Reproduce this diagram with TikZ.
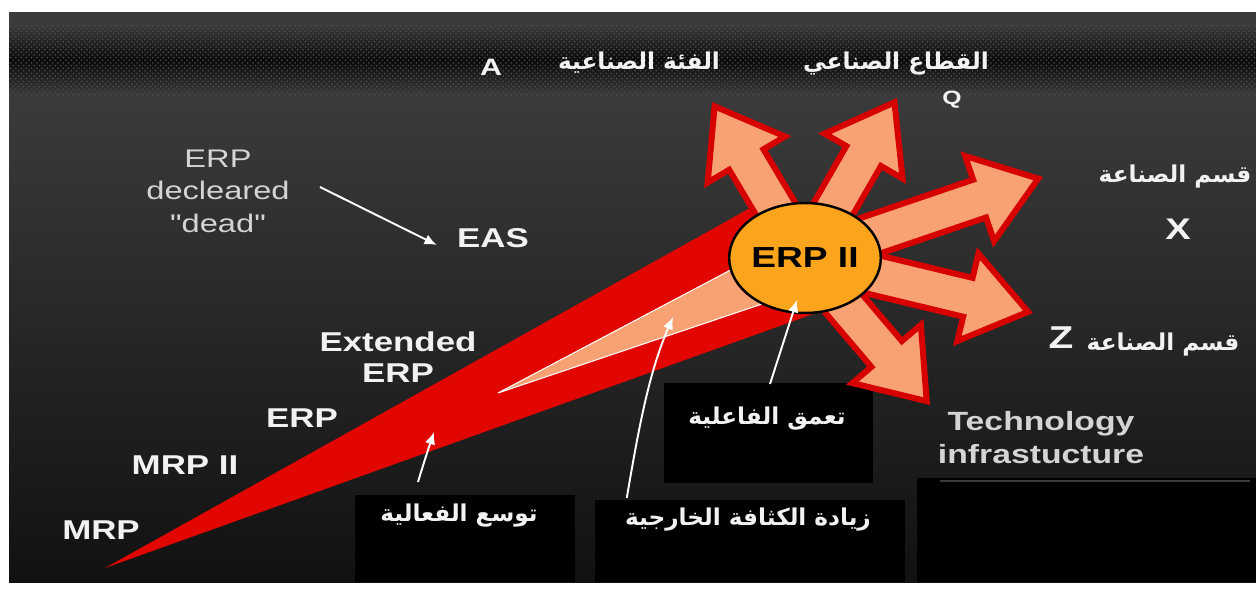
\documentclass[tikz,border=0pt]{standalone}
\usepackage{fontspec}
\setmainfont{Liberation Sans}[FakeStretch=1.28, Ligatures=TeXOff]
\newfontfamily\arabicfont[Script=Arabic,FakeStretch=1.0]{DejaVu Sans}
\TeXXeTstate=1
\usetikzlibrary{shapes.geometric,shapes.arrows,arrows.meta,calc,patterns}

\definecolor{panelTop}{HTML}{3B3B3B}
\definecolor{panelMid}{HTML}{242424}
\definecolor{panelBottom}{HTML}{111111}
\definecolor{bandDark}{HTML}{0A0A0A}
\definecolor{wedgered}{HTML}{E10600}
\definecolor{salmon}{HTML}{F8A274}
\definecolor{burstred}{HTML}{D70000}
\definecolor{erporange}{HTML}{FBA41C}
\definecolor{labelwhite}{HTML}{F2F2F2}
\definecolor{deadgray}{HTML}{D4D4D4}

\tikzset{
  stage/.style={text=labelwhite, inner sep=0pt, align=center,
    font=\bfseries\fontsize{15.5}{18}\selectfont},
  arlabel/.style={text=labelwhite, inner sep=0pt,
    font=\arabicfont\bfseries\fontsize{13.2}{16}\selectfont},
  burst/.style={single arrow, draw=burstred, fill=salmon, line width=3.4pt,
    inner xsep=0pt, inner ysep=0.34cm, single arrow head extend=0.5cm,
    single arrow tip angle=72},
  hubnode/.style={ellipse, draw=black, line width=1.4pt, fill=erporange,
    minimum width=2.94cm, minimum height=2.2cm, inner sep=0pt,
    font=\bfseries\fontsize{16.5}{18}\selectfont},
  pointer/.style={draw=white, line width=1.1pt, -{Latex[length=7pt,width=6pt]}},
}

\begin{document}
\begin{tikzpicture}[x=0.02cm, y=-0.02cm]
  \useasboundingbox (0,0) rectangle (1256,590);

  % Backdrop
  \fill[white] (0,0) rectangle (1256,590);
  \shade[top color=panelTop, middle color=panelMid, bottom color=panelBottom]
    (9,95) rectangle (1256,582);
  \fill[panelTop] (9,12) rectangle (1256,25);
  \shade[top color=panelTop, bottom color=bandDark] (9,25) rectangle (1256,60);
  \shade[top color=bandDark, bottom color=panelTop] (9,60) rectangle (1256,95);
  \fill[pattern=crosshatch dots, pattern color=black!70!white] (9,25) rectangle (1256,95);

  % Boxes behind the captions
  \fill[black] (664,383) rectangle (873,483);
  \fill[black] (355,495) rectangle (575,582);
  \fill[black] (595,500) rectangle (905,582);
  \fill[black] (917,478) rectangle (1256,582);
  \draw[panelTop, line width=1pt] (940,481) -- (1250,481);

  % Wedge
  \fill[wedgered] (105,568) -- (752,207) -- (800,240) -- (830,308) -- cycle;
  \filldraw[fill=salmon, draw=white, line width=0.6pt]
    (498,393) -- (740,265) -- (790,280) -- (768,302) -- cycle;

  % Burst arrows
  \coordinate (hub) at (805,258);
  \foreach \tx/\ty [count=\i] in {712/102, 897/98, 1043/177, 1033/313, 930/405} {
    \path let \p1 = ($(\tx,\ty)-(hub)$), \n1 = {atan2(\y1,\x1)},
      \n2 = {veclen(\x1,\y1)} in
      node[burst, rotate=\n1, minimum height=\n2, anchor=tip] (arr\i) at (\tx,\ty) {};
  }
  \node[hubnode] (erp2) at (hub) {ERP II};

  % Labels (top)
  \node[stage, font=\bfseries\fontsize{13.5}{16}\selectfont] (catA) at (491,67) {A};
  \node[arlabel] (category) at (639,63) {\beginR الفئة الصناعية\endR};
  \node[arlabel] (sector) at (896,64) {\beginR القطاع الصناعي\endR};
  \node[stage, font=\bfseries\fontsize{11}{13}\selectfont] (secQ) at (952,100) {Q};
  \node[arlabel] (divisionX) at (1175,177) {\beginR قسم الصناعة\endR};
  \node[stage, font=\bfseries\fontsize{17}{19}\selectfont] (divX) at (1178,229) {X};
  \node[arlabel] (divisionZ) at (1163,345) {\beginR قسم الصناعة\endR};
  \node[stage, font=\bfseries\fontsize{18}{20}\selectfont] (divZ) at (1061,338) {Z};

  % Labels (stages)
  \node[stage, text=deadgray, font=\fontsize{14.5}{18.5}\selectfont] (dead) at (218,191)
    {ERP\\decleared\\"dead"};
  \node[stage] (eas) at (493,238) {EAS};
  \node[stage] (extended) at (398,357) {Extended\\ERP};
  \node[stage] (erp) at (302,418) {ERP};
  \node[stage] (mrp2) at (185,465) {MRP II};
  \node[stage] (mrp) at (101,530) {MRP};
  \node[stage, text=deadgray, font=\bfseries\fontsize{15}{18.7}\selectfont] (tech) at (1041,438)
    {Technology\\infrastucture};

  % Labels (bottom)
  \node[arlabel] (deep) at (767,419) {\beginR تعمق الفاعلية\endR};
  \node[arlabel] (extra) at (748,520) {\beginR زيادة الكثافة الخارجية\endR};
  \node[arlabel] (broad) at (459,516) {\beginR توسع الفعالية\endR};

  % Pointers
  \coordinate (broadTip) at (434,432);
  \coordinate (extraTip) at (673,317);
  \coordinate (deepTip) at (797,300);
  \draw[pointer] ([shift={(30,-4)}]dead.east) -- ([shift={(-20,7)}]eas.west);
  \draw[pointer] ([shift={(-41,-22)}]broad.north) .. controls (424,462) and (428,450) .. (broadTip);
  \draw[pointer] ([shift={(2,-10)}]extra.north west) .. controls (640,420) and (650,370) .. (extraTip);
  \draw[pointer] ([shift={(3,-23)}]deep.north) -- (deepTip);
\end{tikzpicture}
\end{document}
